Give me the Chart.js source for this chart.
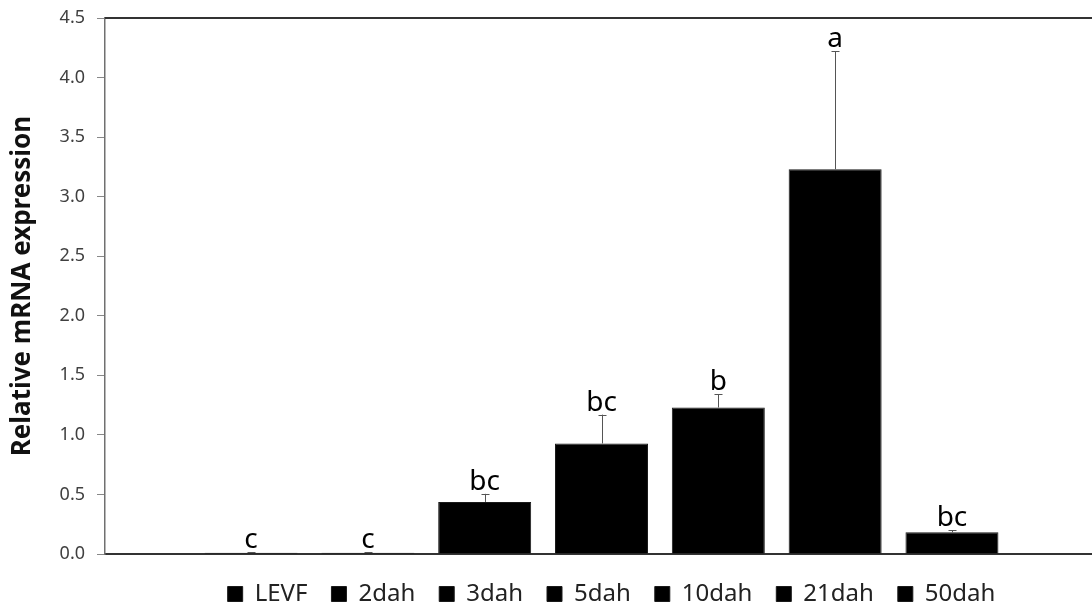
<!DOCTYPE html>
<html>
<head>
<meta charset="utf-8">
<script src="https://cdn.jsdelivr.net/npm/chart.js@4/dist/chart.umd.min.js"></script>
<style>
  html, body { margin: 0; padding: 0; background: #ffffff; overflow: hidden; }
  #wrap { width: 1092px; height: 610px; overflow: hidden; }
  canvas { display: block; }
</style>
</head>
<body>
<div id="wrap"><canvas id="chart" width="1100" height="616"></canvas></div>
<script>
// Sample groups (one bar each)
const groups = ['LEVF', '2dah', '3dah', '5dah', '10dah', '21dah', '50dah'];
// Mean relative mRNA expression
const means = [0.01, 0.01, 0.437, 0.928, 1.23, 3.23, 0.182];
// Upper error (SD)
const errors = [0.003, 0.003, 0.068, 0.242, 0.11, 0.99, 0.018];
// Significance letters
const letters = ['c', 'c', 'bc', 'bc', 'b', 'a', 'bc'];
// Y axis range
const yMin = 0, yMax = 4.5, yStep = 0.5;

Chart.defaults.font.family = "'Noto Sans', 'DejaVu Sans', sans-serif";

const errorBarsPlugin = {
  id: 'errorBars',
  afterDatasetsDraw(chart) {
    const ctx = chart.ctx;
    const y = chart.scales.y;
    ctx.save();
    groups.forEach((g, i) => {
      const meta = chart.getDatasetMeta(i);
      const bar = meta.data[0];
      if (!bar) return;
      const x = Math.round(bar.x) + 0.5;
      const yTop = y.getPixelForValue(means[i]);
      const yCap = y.getPixelForValue(means[i] + errors[i]);
      ctx.strokeStyle = '#555555';
      ctx.lineWidth = 1;
      ctx.beginPath();
      ctx.moveTo(x, yTop);
      ctx.lineTo(x, yCap);
      ctx.moveTo(x - 4, Math.round(yCap) + 0.5);
      ctx.lineTo(x + 4, Math.round(yCap) + 0.5);
      ctx.stroke();
      ctx.fillStyle = '#000000';
      ctx.font = "28px 'Noto Sans', sans-serif";
      ctx.textAlign = 'center';
      ctx.textBaseline = 'alphabetic';
      ctx.fillText(letters[i], bar.x, yCap - 4);
    });
    ctx.restore();
  }
};

const frameAndLegendPlugin = {
  id: 'frameAndLegend',
  afterLayout(chart) {
    // nudge the legend row to the right of the plot centre
    const lg = chart.legend;
    if (lg) { lg.left += 10; lg.right += 10; }
  },
  afterDraw(chart) {
    const { ctx, chartArea } = chart;
    ctx.save();
    ctx.strokeStyle = '#333333';
    ctx.lineWidth = 2;
    ctx.beginPath();
    ctx.moveTo(chartArea.left, chartArea.top);
    ctx.lineTo(chartArea.right + 10, chartArea.top);
    ctx.stroke();
    ctx.restore();
  }
};

new Chart(document.getElementById('chart'), {
  type: 'bar',
  data: {
    labels: [''],
    datasets: groups.map((g, i) => ({
      label: g,
      data: [means[i]],
      backgroundColor: '#000000',
      borderColor: '#1a1a1a',
      borderWidth: 1,
      categoryPercentage: 0.8235,
      barPercentage: 0.796
    }))
  },
  options: {
    responsive: false,
    devicePixelRatio: 1,
    animation: false,
    layout: { padding: { top: 18, right: 2, bottom: 0, left: 0 } },
    plugins: {
      legend: {
        position: 'bottom',
        fullSize: false,
        labels: {
          boxWidth: 15,
          boxHeight: 15,
          padding: 24,
          color: '#222222',
          font: { size: 24 }
        }
      },
      tooltip: { enabled: false }
    },
    scales: {
      x: {
        grid: { display: false, drawTicks: false },
        ticks: { display: false },
        border: { display: true, color: '#333333', width: 2 },
        afterFit(scale) { scale.height = 4; }
      },
      y: {
        min: yMin,
        max: yMax,
        ticks: {
          stepSize: yStep,
          color: '#404040',
          padding: 12,
          font: { size: 18 },
          callback: (v) => Number(v).toFixed(1)
        },
        grid: {
          drawOnChartArea: false,
          drawTicks: true,
          tickLength: 8,
          color: '#888888'
        },
        border: { display: true, color: '#707070', width: 1.5 },
        title: {
          display: true,
          text: 'Relative mRNA expression',
          color: '#111111',
          font: { size: 26, weight: 'bold' },
          padding: { top: 7, bottom: 0 }
        },
        afterFit(scale) {
          scale.width = 105;
          scale.paddingTop = 0;
          scale.paddingBottom = 0;
        }
      }
    }
  },
  plugins: [errorBarsPlugin, frameAndLegendPlugin]
});
</script>
</body>
</html>
